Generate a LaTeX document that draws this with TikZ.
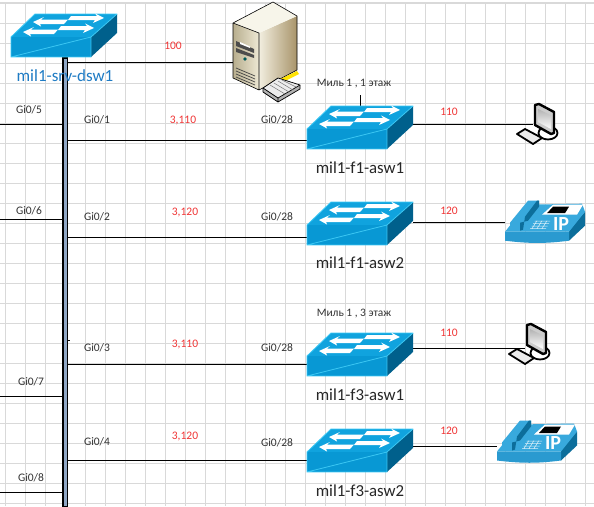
\documentclass[tikz,border=0pt]{standalone}
\usepackage{fontspec}
\setmainfont{Carlito}
\definecolor{swtop}{HTML}{10A3DE}
\definecolor{swedge}{HTML}{3CC8F4}
\definecolor{swfront}{HTML}{0898D4}
\definecolor{swside}{HTML}{00608C}
\definecolor{gridc}{HTML}{D9D9D9}
\definecolor{lblc}{HTML}{333333}
\definecolor{vlanc}{HTML}{F03535}
\definecolor{namec}{HTML}{1E7BC4}
\definecolor{phtop}{HTML}{38A9DD}
\definecolor{phfront}{HTML}{2A9AD0}
\definecolor{phside}{HTML}{0C6E9B}
\definecolor{bust}{HTML}{8FA6C4}
\definecolor{srvA}{HTML}{B8AE8E}
\definecolor{srvB}{HTML}{EDE8D4}
\definecolor{srvC}{HTML}{F2EEDF}
\definecolor{srvD}{HTML}{A8946A}
\definecolor{srvT}{HTML}{F7F5EA}
\tikzset{
  link/.style={draw=black,line width=1pt},
  devbox/.style={inner sep=0pt,outer sep=0pt,minimum width=#1},
  devbox/.default=106pt,
  port/.style={font=\fontsize{11.5}{12}\selectfont,text=lblc,inner sep=0pt},
  vlan/.style={font=\fontsize{11.5}{12}\selectfont,text=vlanc,inner sep=0pt},
  floorlbl/.style={font=\fontsize{11.4}{12}\selectfont,text=lblc,inner sep=0pt},
  swname/.style={font=\fontsize{16.8}{18}\selectfont,text=black!85,inner sep=0pt},
  pics/swicon/.style={code={
    \fill[swtop] (0,0)--(24,-23)--(106,-23)--(80,0)--cycle;
    \fill[swfront] (0,0) rectangle (80,20);
    \fill[swside] (80,0)--(106,-23)--(106,-4)--(80,20)--cycle;
    \draw[swedge,line width=.8pt,line join=round] (0,20)--(0,0)--(24,-23)--(106,-23)--(80,0)--cycle (80,0)--(80,20)--(0,20);
    \fill[white,shift={(22,-15)}] (0,0)--(11,-5)--(8,-2.5)--(35,-2.5)--(31,2)--(7,2)--(8,4.5)--cycle;
    \fill[white,shift={(12,-5)}] (0,0)--(11,-5)--(8,-2.5)--(35,-2.5)--(31,2)--(7,2)--(8,4.5)--cycle;
    \fill[white,shift={(93,-19)}] (0,0)--(-9,-4.5)--(-7,-2)--(-33,-2)--(-36,2)--(-9,2)--(-11,5)--cycle;
    \fill[white,shift={(83,-9)}] (0,0)--(-9,-4.5)--(-7,-2)--(-33,-2)--(-36,2)--(-9,2)--(-11,5)--cycle;
  }},
  pics/pcicon/.style={code={
    \draw[black,line width=1.8pt,fill=white] (13,28) ellipse (9.5 and 6.5);
    \draw[black,line width=2.4pt,fill=gray!40,line join=round] (0,0)--(4,-1)--(19,7)--(19,28)--(16,29)--(0,20)--cycle;
    \shade[top color=gray!60,bottom color=white] (3,4)--(16,10.5)--(16,24)--(3,17)--cycle;
    \draw[black,line width=1.8pt,fill=gray!15,line join=round] (-18,29)--(-10,24)--(7,33)--(-2,39)--cycle;
  }},
  pics/phoneicon/.style={code={
    \fill[phside] (64,0)--(80,-15)--(80,-29)--(64,-12)--cycle;
    \fill[phtop] (0,-9)--(22,-36)--(77,-37)--(80,-29)--(64,-9)--cycle;
    \fill[phfront] (0,-9)--(64,-9)--(64,0) .. controls (40,3) and (25,3) .. (0,0)--cycle;
    \fill[phtop] (5,-18)--(23,-40)--(34,-40)--(34,-34)--(23,-20)--(15,-18)--(15,-10)--(5,-10)--cycle;
    \fill[phside] (23,-20)--(34,-34)--(34,-40)--(32,-40)--(20,-24)--(18,-11)--(15,-10)--(15,-18)--cycle;
    \fill[white] (37,-26)--(48,-36)--(78,-36)--(72,-26)--cycle;
    \fill[black] (42,-27.5)--(48,-34)--(64,-34)--(60,-27.5)--cycle;
    \draw[white!80!phtop,line width=.5pt,shift={(25,-12)}] (0,0)--(16,0) (1.5,-2.5)--(17.5,-2.5) (3,-5)--(19,-5) (4.5,-7.5)--(20,-7.5)
      (2,0)--(7,-8) (7,0)--(12,-8) (12,0)--(17,-8);
    \node[text=white,inner sep=0pt,font=\fontsize{20}{20}\selectfont\bfseries] at (56,-17) {IP};
  }},
  pics/servericon/.style={code={
    \shade[left color=srvA,right color=srvB] (0,21)--(26,31)--(26,88)--(0,76)--cycle;
    \shade[left color=srvC,right color=srvD] (26,31)--(64,14)--(64,68)--(26,88)--cycle;
    \fill[srvT] (0,21)--(40,0)--(64,14)--(26,31)--cycle;
    \draw[black,line width=.6pt,line join=round] (0,21)--(40,0)--(64,14)--(64,68)--(26,88)--(0,76)--cycle (0,21)--(26,31)--(26,88);
    \fill[black!70] (3,39)--(21,47)--(21,51)--(3,44)--cycle;
    \fill[white] (7,40)--(17,44.5)--(17,46)--(7,42)--cycle;
    \fill[black!70] (3,46)--(21,53)--(21,56)--(3,50)--cycle;
    \fill[teal!70!black] (12,57) circle (1.8);
    \draw[black!75,line width=.7pt] (3,66)--(22,74) (3,69)--(22,77) (3,72)--(22,80) (3,75)--(22,83);
    \fill[yellow!85!orange] (35,83)--(64,69)--(66,72)--(40,85)--cycle;
    \fill[black!30] (30,86)--(45,76)--(67,83)--(67,87)--(45,100)--(30,90)--cycle;
    \draw[black,line width=.7pt,line join=round,fill=gray!15] (30,86)--(45,76)--(67,83)--(45,96)--cycle;
    \draw[black,line width=.7pt,line join=round] (30,86)--(30,90)--(45,100)--(67,87)--(67,83) (45,96)--(45,100);
    \draw[black!55,line width=.5pt] (37,83)--(52,92) (41,81)--(56,90) (45,79)--(60,88) (49,78)--(63,85);
  }}
}
\begin{document}
\begin{tikzpicture}[x=1pt,y=-1pt]
\useasboundingbox (0,0) rectangle (594,506);
\fill[white] (0,0) rectangle (594,506);
% grid
\foreach \gx in {5,25,...,585} \draw[gridc,line width=.8pt] (\gx,3)--(\gx,506);
\foreach \gy in {23,43,...,503} \draw[gridc,line width=.8pt] (0,\gy)--(594,\gy);
\draw[gridc,line width=2pt] (0,3)--(594,3);

% bus
\node[draw=black,line width=1.6pt,fill=bust,inner sep=0pt,outer sep=0pt,minimum width=4.6pt,minimum height=449pt] (bus) at (65.3,282.5) {};
\draw[black,line width=.6pt] (bus.east |- 0,340) -- ++(2,0);

% devices (invisible anchors, icons on top)
\node[devbox,minimum height=20pt] (dsw) at (64,47) {};
\node[devbox=60pt,minimum height=88pt] (srv) at (263,46) {};
\node[devbox,minimum height=20pt] (f1a) at (360,140.5) {};
\node[devbox,minimum height=20pt] (f1b) at (360,237) {};
\node[devbox,minimum height=20pt] (f3a) at (360,364.5) {};
\node[devbox,minimum height=20pt] (f3b) at (360,460.5) {};
\node[devbox=36pt,minimum height=40pt] (pc1) at (533,124) {};
\node[devbox=36pt,minimum height=40pt] (pc3) at (525,348) {};
\node[devbox=80pt,minimum height=40pt] (ph1) at (545,222) {};
\node[devbox=80pt,minimum height=40pt] (ph3) at (537,446) {};
\coordinate (srvport) at ([yshift=-16pt]srv.west);
\coordinate (p5) at (0,124);
\coordinate (p6) at (0,219);
\coordinate (p7) at (0,396);
\coordinate (p8) at (0,492.5);
\coordinate (flr) at (360,95);

% connectors
\draw[link] (bus.east |- srvport) -- (srvport);
\draw[link] (bus.east |- f1a.west) -- (f1a.west);
\draw[link] (bus.east |- f1b.west) -- (f1b.west);
\draw[link] (bus.east |- f3a.west) -- (f3a.west);
\draw[link] (bus.east |- f3b.west) -- (f3b.west);
\draw[link] (p5) -- (bus.west |- p5);
\draw[link] (p6) -- (bus.west |- p6);
\draw[link] (p7) -- (bus.west |- p7);
\draw[link] (p8) -- (bus.west |- p8);
\draw[link] (f1a.east |- pc1.center) -- (pc1.center);
\draw[link] (f1b.east |- ph1.west) -- (ph1.west);
\draw[link] (f3a.east |- pc3.center) -- (pc3.center);
\draw[link] (f3b.east |- ph3.west) -- (ph3.west);
\draw[link,line width=.8pt] (flr) -- (f1a.north |- 0,106);

% icons
\pic at (11,37) {swicon};
\pic at (233,2) {servericon};
\pic at (307,129) {swicon};
\pic at (307,225) {swicon};
\pic at (307,356) {swicon};
\pic at (307,452) {swicon};
\pic at (535,105) {pcicon};
\pic at (527,325) {pcicon};
\pic at (505,240.7) {phoneicon};
\pic at (497,460.5) {phoneicon};

% texts
\node[inner sep=0pt,text=namec,font=\fontsize{17}{18}\selectfont] (tdsw) at (65,76) {mil1-srv-dsw1};
\node[vlan] (t100) at (173,46) {100};
\node[port] (g5) at (29,110) {Gi0/5};
\node[port] (g1) at (97,120) {Gi0/1};
\node[vlan] (v1) at (183,121) {3,110};
\node[port] (g28a) at (277,120) {Gi0/28};
\node[floorlbl] (m1) at (354,84) {Миль 1 , 1 этаж};
\node[vlan] (v110a) at (449,112) {110};
\node[swname] (na) at (360,168) {mil1-f1-asw1};
\node[port] (g6) at (29,211) {Gi0/6};
\node[port] (g2) at (97,217) {Gi0/2};
\node[vlan] (v2) at (185,213) {3,120};
\node[port] (g28b) at (277,217) {Gi0/28};
\node[vlan] (v120a) at (449,211) {120};
\node[swname] (nb) at (360,263) {mil1-f1-asw2};
\node[floorlbl] (m3) at (354,314) {Миль 1 , 3 этаж};
\node[port] (g3) at (97,348) {Gi0/3};
\node[vlan] (v3) at (185,344) {3,110};
\node[port] (g28c) at (277,348) {Gi0/28};
\node[vlan] (v110b) at (449,333) {110};
\node[swname] (nc) at (360,395) {mil1-f3-asw1};
\node[port] (g7) at (31,382) {Gi0/7};
\node[port] (g4) at (97,442) {Gi0/4};
\node[vlan] (v4) at (185,436) {3,120};
\node[port] (g28d) at (277,443) {Gi0/28};
\node[vlan] (v120b) at (449,431) {120};
\node[swname] (nd) at (360,491) {mil1-f3-asw2};
\node[port] (g8) at (31,478) {Gi0/8};
\end{tikzpicture}
\end{document}
